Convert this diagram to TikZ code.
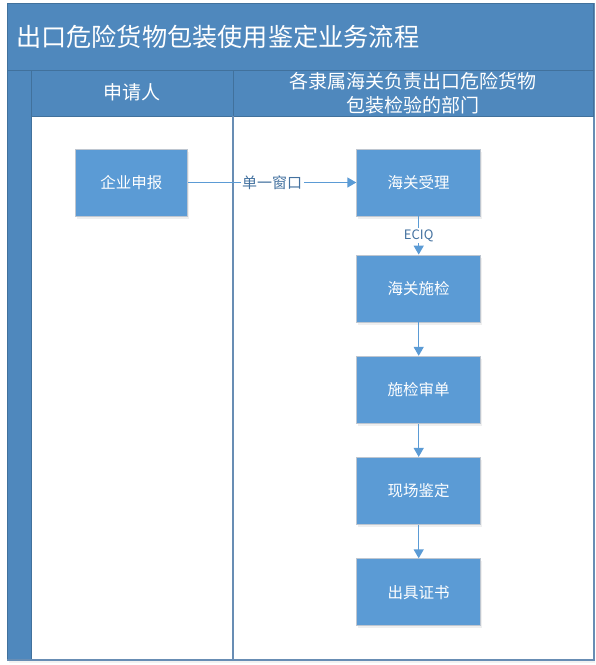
\documentclass[tikz,border=0pt]{standalone}
\usepackage{fontspec}
\setmainfont{Noto Sans CJK SC}
\usetikzlibrary{arrows.meta,shadows}
\definecolor{bandblue}{RGB}{79,136,189}
\definecolor{edgeblue}{RGB}{65,113,156}
\definecolor{laneline}{RGB}{104,141,180}
\definecolor{boxblue}{RGB}{91,155,213}
\definecolor{boxedge}{RGB}{190,198,208}
\definecolor{arrowblue}{RGB}{91,155,213}
\definecolor{labelblue}{RGB}{68,114,160}
\tikzset{
  band/.style={draw=edgeblue,line width=1.2pt,fill=bandblue,inner sep=0pt,anchor=north west,text=white},
  stepbox/.style={draw=boxedge,line width=0.8pt,fill=boxblue,text=white,inner sep=0pt,
     minimum width=124pt,minimum height=67pt,font=\fontsize{15.5}{17}\selectfont,
     drop shadow={opacity=0.12,shadow xshift=1.5pt,shadow yshift=-2.5pt}},
  flow/.style={draw=arrowblue,line width=1.4pt,-{Triangle[width=10pt,length=9pt]}},
  flowlabel/.style={fill=white,text=labelblue,inner sep=1.5pt}
}
\begin{document}
\begin{tikzpicture}[x=1pt,y=-1pt]
\useasboundingbox (0,0) rectangle (596,665);
% outer frame with faint shadow
\node[draw=laneline,line width=1.6pt,fill=white,inner sep=0pt,anchor=north west,
  minimum width=586pt,minimum height=657pt,
  drop shadow={opacity=0.10,shadow xshift=1.5pt,shadow yshift=-3pt}] (frame) at (7,2.5) {};
% title band
\node[band,minimum width=586pt,minimum height=67pt] (title) at (7,2.5) {};
\node[text=white,anchor=west,inner sep=0pt,font=\fontsize{25.2}{27}\selectfont] (titletext) at (16,36.5) {出口危险货物包装使用鉴定业务流程};
% left strip
\node[band,minimum width=23.7pt,minimum height=590pt] (strip) at (7,69.5) {};
% headers
\node[band,minimum width=202pt,minimum height=46.2pt] (head1) at (30.7,69.5) {};
\node[text=white,inner sep=0pt,font=\fontsize{19}{21}\selectfont] (head1text) at (131.7,92.5) {申请人};
\node[band,minimum width=360.3pt,minimum height=46.2pt] (head2) at (232.7,69.5) {};
\node[text=white,inner sep=0pt,align=center,font=\fontsize{19}{24.5}\selectfont] (head2text) at (413,93) {各隶属海关负责出口危险货物\\包装检验的部门};
% lane divider and bottom edge
\coordinate (divtop) at (232.7,115.7);
\coordinate (divbot) at (232.7,659.5);
\draw[laneline,line width=2pt] (divtop) -- (divbot);
\coordinate (fbl) at (7,659.5);
\coordinate (fbr) at (593,659.5);
\draw[laneline,line width=2pt] (fbl) -- (fbr);
% steps
\node[stepbox,minimum width=112.7pt] (s0) at (131.35,182.5) {企业申报};
\node[stepbox] (s1) at (418.7,182.5) {海关受理};
\node[stepbox] (s2) at (418.7,288.5) {海关施检};
\node[stepbox] (s3) at (418.7,389.7) {施检审单};
\node[stepbox] (s4) at (418.7,490.8) {现场鉴定};
\node[stepbox] (s5) at (418.7,592.2) {出具证书};
% connectors
\draw[flow] (s0) -- node[flowlabel,font=\fontsize{15}{17}\selectfont] (l1) {单一窗口} (s1);
\draw[flow] (s1) -- node[flowlabel,font=\fontsize{13}{15}\selectfont] (l2) {ECIQ} (s2);
\draw[flow] (s2) -- (s3);
\draw[flow] (s3) -- (s4);
\draw[flow] (s4) -- (s5);
\end{tikzpicture}
\end{document}
